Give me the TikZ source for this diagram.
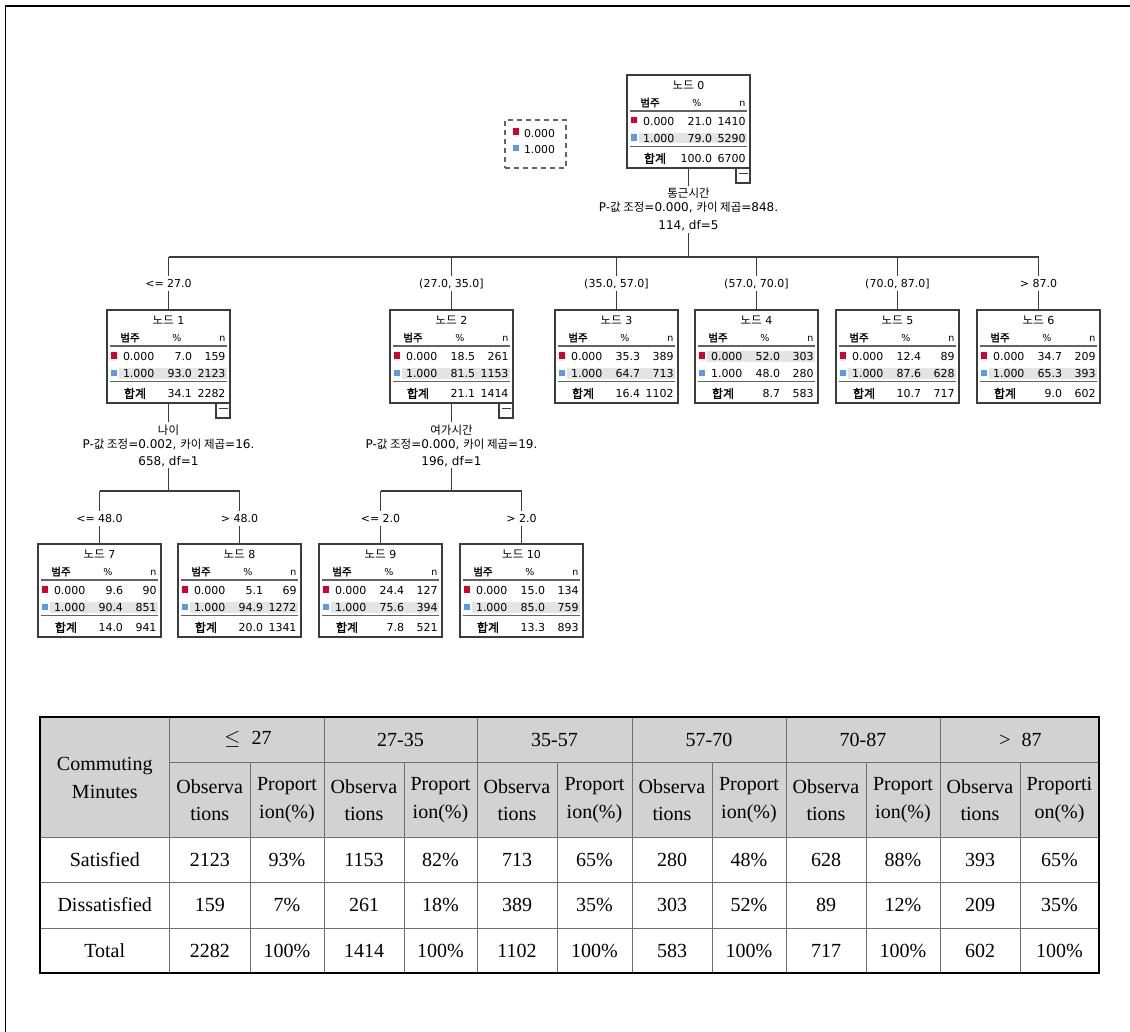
\documentclass[tikz,border=0pt]{standalone}
\usepackage{fontspec}
\setmainfont{Liberation Serif}
\newfontfamily\trf{DejaVu Sans}
\newfontfamily\kr{Noto Sans CJK KR}
\newfontfamily\krb[FakeBold=1.5]{Noto Sans CJK KR}
\usetikzlibrary{calc}
\definecolor{catred}{HTML}{D6002F}
\definecolor{catblue}{HTML}{5B9BE6}
\definecolor{bandgray}{HTML}{E4E4E4}
\definecolor{hdrgray}{HTML}{D2D2D2}
\definecolor{boxline}{HTML}{3C3C3C}
\definecolor{tabline}{HTML}{707070}
\newcommand\krs{\kr\fontsize{11.5}{13}\selectfont}
\tikzset{
  every node/.style={outer sep=0pt},
  tbox/.style={draw=boxline, line width=1.2pt, minimum width=123pt, minimum height=93pt, inner sep=0pt, fill=white},
  ttxt/.style={font=\trf\fontsize{11}{13}\selectfont, inner sep=0pt},
  hdr/.style={font=\trf\fontsize{9.5}{11}\selectfont, inner sep=0pt},
  sepline/.style={draw=boxline!80, line width=1.5pt},
  conn/.style={draw=boxline, line width=1.2pt},
  brl/.style={font=\trf\fontsize{11}{12}\selectfont, text height=8pt, text depth=0pt, inner ysep=3.5pt, inner xsep=1pt},
  stat/.style={font=\trf\fontsize{12}{13}\selectfont, inner xsep=0pt, inner ysep=2pt},
  minusbox/.style={draw=boxline, line width=1.1pt, minimum width=14pt, minimum height=15pt, inner sep=0pt, fill=white, anchor=north east},
  legbox/.style={draw=boxline!80, dashed, dash pattern=on 5pt off 4pt, line width=1.1pt, minimum width=61pt, minimum height=48pt, inner sep=0pt},
  ttab/.style={font=\fontsize{20}{20.5}\selectfont, inner sep=0pt, align=center},
  tabl/.style={draw=tabline, line width=1pt},
}
\newcommand\tnode[4]{%
  \node[tbox] (#1) at (#2,#3+46.5) {};
  \node[ttxt, anchor=base] (#1-t) at ($(#1.north)+(0,14.5)$) {{\krs 노드} #4};
}
\newcommand\tdata[8]{%
  \begin{scope}[shift={(#1.north west)}]
    \ifnum#8=1
      \fill[bandgray] (12,41) rectangle (120,51.5);
    \else
      \fill[bandgray] (12,58) rectangle (120,68.5);
    \fi
    \node[hdr, anchor=base] (#1-h1) at (23,31.5) {\krb\fontsize{10.5}{12}\selectfont 범주};
    \node[hdr, anchor=base] (#1-h2) at (70,31.5) {\%};
    \node[hdr, anchor=base east] (#1-h3) at (118.5,31.5) {n};
    \draw[sepline] (3,36) -- (120,36);
    \fill[catred] (4,42) rectangle (10,48.5);
    \node[ttxt, anchor=base west] (#1-c0) at (16,50.5) {0.000};
    \node[ttxt, anchor=base east] (#1-p0) at (85,50.5) {#2};
    \node[ttxt, anchor=base east] (#1-n0) at (118.5,50.5) {#3};
    \fill[catblue] (4,59.5) rectangle (10,66);
    \node[ttxt, anchor=base west] (#1-c1) at (16,67.5) {1.000};
    \node[ttxt, anchor=base east] (#1-p1) at (85,67.5) {#4};
    \node[ttxt, anchor=base east] (#1-n1) at (118.5,67.5) {#5};
    \draw[sepline] (3,71.5) -- (120,71.5);
    \node[ttxt, anchor=base] (#1-h4) at (28,88) {{\krb\fontsize{12}{13}\selectfont 합계}};
    \node[ttxt, anchor=base east] (#1-pt) at (85,87.5) {#6};
    \node[ttxt, anchor=base east] (#1-nt) at (118.5,87.5) {#7};
  \end{scope}
}
\newcommand\tminus[1]{%
  \node[minusbox] (#1-m) at (#1.south east) {};
  \draw[boxline, line width=1pt] ($(#1-m.center)+(-4.5,-2)$) -- ($(#1-m.center)+(4.5,-2)$);
}
\begin{document}
\begin{tikzpicture}[x=1pt,y=-1pt]
\useasboundingbox (0,0) rectangle (1130,1032);
\fill[white] (0,0) rectangle (1130,1032);
% outer frame
\draw[black, line width=1.5pt] (5.5,1032) -- (5.5,6) -- (1130,6);

% legend
\node[legbox] (leg) at (535.5,144) {};
\fill[catred] ($(leg.north west)+(8,8.5)$) rectangle ($(leg.north west)+(14,15)$);
\node[ttxt, anchor=base west, font=\trf\fontsize{10.8}{12}\selectfont] (leg-a) at ($(leg.north west)+(19,18)$) {0.000};
\fill[catblue] ($(leg.north west)+(8,25)$) rectangle ($(leg.north west)+(14,31)$);
\node[ttxt, anchor=base west, font=\trf\fontsize{10.8}{12}\selectfont] (leg-b) at ($(leg.north west)+(19,33.5)$) {1.000};

% tree nodes
\tnode{n0}{688.5}{75}{0}
\tdata{n0}{21.0}{1410}{79.0}{5290}{100.0}{6700}{2}
\tminus{n0}

\tnode{n1}{168.5}{310}{1}
\tdata{n1}{7.0}{159}{93.0}{2123}{34.1}{2282}{2}
\tminus{n1}
\tnode{n2}{451.5}{310}{2}
\tdata{n2}{18.5}{261}{81.5}{1153}{21.1}{1414}{2}
\tminus{n2}
\tnode{n3}{616.5}{310}{3}
\tdata{n3}{35.3}{389}{64.7}{713}{16.4}{1102}{2}
\tnode{n4}{756.5}{310}{4}
\tdata{n4}{52.0}{303}{48.0}{280}{8.7}{583}{1}
\tnode{n5}{897.5}{310}{5}
\tdata{n5}{12.4}{89}{87.6}{628}{10.7}{717}{2}
\tnode{n6}{1038.5}{310}{6}
\tdata{n6}{34.7}{209}{65.3}{393}{9.0}{602}{2}

\tnode{n7}{99.5}{544}{7}
\tdata{n7}{9.6}{90}{90.4}{851}{14.0}{941}{2}
\tnode{n8}{239.5}{544}{8}
\tdata{n8}{5.1}{69}{94.9}{1272}{20.0}{1341}{2}
\tnode{n9}{380.5}{544}{9}
\tdata{n9}{24.4}{127}{75.6}{394}{7.8}{521}{2}
\tnode{n10}{521.5}{544}{10}
\tdata{n10}{15.0}{134}{85.0}{759}{13.3}{893}{2}

% split statistics
\node[stat, anchor=base] (s0a) at (688.5,198) {\krs 통근시간};
\node[stat, anchor=base] (s0b) at (688.5,212) {P-{\krs 값 조정}=0.000, {\krs 카이 제곱}=848.};
\node[stat, anchor=base] (s0c) at (688.5,229.5) {114, df=5};
\node[stat, anchor=base] (s1a) at (168.5,434) {\krs 나이};
\node[stat, anchor=base] (s1b) at (168.5,448) {P-{\krs 값 조정}=0.002, {\krs 카이 제곱}=16.};
\node[stat, anchor=base] (s1c) at (168.5,465) {658, df=1};
\node[stat, anchor=base] (s2a) at (451.5,434) {\krs 여가시간};
\node[stat, anchor=base] (s2b) at (451.5,448) {P-{\krs 값 조정}=0.000, {\krs 카이 제곱}=19.};
\node[stat, anchor=base] (s2c) at (451.5,465) {196, df=1};

\coordinate (b0) at (688.5,257);
\coordinate (b1) at (168.5,491);
\coordinate (b2) at (451.5,491);

% branch labels
\node[brl] (l1) at (168.5,283.5) {<= 27.0};
\node[brl] (l2) at (451.5,283.5) {(27.0, 35.0]};
\node[brl] (l3) at (616.5,283.5) {(35.0, 57.0]};
\node[brl] (l4) at (756.5,283.5) {(57.0, 70.0]};
\node[brl] (l5) at (897.5,283.5) {(70.0, 87.0]};
\node[brl] (l6) at (1038.5,283.5) {> 87.0};
\node[brl] (l7) at (99.5,518) {<= 48.0};
\node[brl] (l8) at (239.5,518) {> 48.0};
\node[brl] (l9) at (380.5,518) {<= 2.0};
\node[brl] (l10) at (521.5,518) {> 2.0};

% connectors
\draw[conn] (n0.south) -- (s0a.north);
\draw[conn] (s0c.south) -- (b0);
\draw[conn] (b0 -| l1) -- (b0 -| l6);
\foreach \k in {1,...,6} {
  \draw[conn] (b0 -| l\k) -- (l\k.north);
  \draw[conn] (l\k.south) -- (n\k.north);
}
\draw[conn] (n1.south) -- (s1a.north);
\draw[conn] (s1c.south) -- (b1);
\draw[conn] (b1 -| l7) -- (b1 -| l8);
\draw[conn] (n2.south) -- (s2a.north);
\draw[conn] (s2c.south) -- (b2);
\draw[conn] (b2 -| l9) -- (b2 -| l10);
\foreach \k in {7,...,10} {
  \draw[conn] (l\k.north |- b1) -- (l\k.north);
  \draw[conn] (l\k.south) -- (n\k.north);
}

% table
\fill[hdrgray] (40,717) rectangle (1099,837);
\foreach \y in {882,928} \draw[tabl] (40,\y) -- (1099,\y);
\draw[tabl] (169.5,762) -- (1099,762);
\draw[tabl] (40,837) -- (1099,837);
\foreach \x in {169.5,324,477,632,786,940} \draw[tabl] (\x,717) -- (\x,973);
\foreach \x in {250,404,557,712,866,1020} \draw[tabl] (\x,762) -- (\x,973);
\draw[black, line width=1.3pt] (40,717) rectangle (1099,973);

\node[ttab] (tc) at (104.75,778) {Commuting\\[7pt]Minutes};
\foreach \cx/\t [count=\i] in {248/{$\leq$\hspace{11pt}27}, 400.5/27-35, 554.5/35-57, 709/57-70, 863/70-87, 1020.5/{>\hspace{11pt}87}}
  \node[ttab] (tg\i) at (\cx,739.5) {\t};
\foreach \cx/\t [count=\i] in {209.75/{Observa\\[7pt]tions}, 287/{Proport\\[7pt]ion(\%)}, 364/{Observa\\[7pt]tions}, 440.5/{Proport\\[7pt]ion(\%)}, 517/{Observa\\[7pt]tions}, 594.5/{Proport\\[7pt]ion(\%)}, 672/{Observa\\[7pt]tions}, 749/{Proport\\[7pt]ion(\%)}, 826/{Observa\\[7pt]tions}, 903/{Proport\\[7pt]ion(\%)}, 980/{Observa\\[7pt]tions}, 1059.5/{Proporti\\[7pt]on(\%)}}
  \node[ttab] (th\i) at (\cx,800) {\t};
\node[ttab] (rs) at (104.75,859.5) {Satisfied};
\node[ttab] (rd) at (104.75,905) {Dissatisfied};
\node[ttab] (rt) at (104.75,950.5) {Total};
\foreach \cx/\a/\b/\c [count=\i] in {209.75/2123/159/2282, 287/93\%/7\%/100\%, 364/1153/261/1414, 440.5/82\%/18\%/100\%, 517/713/389/1102, 594.5/65\%/35\%/100\%, 672/280/303/583, 749/48\%/52\%/100\%, 826/628/89/717, 903/88\%/12\%/100\%, 980/393/209/602, 1059.5/65\%/35\%/100\%} {
  \node[ttab] (ds\i) at (\cx,859.5) {\a};
  \node[ttab] (dd\i) at (\cx,905) {\b};
  \node[ttab] (dt\i) at (\cx,950.5) {\c};
}
\end{tikzpicture}
\end{document}
